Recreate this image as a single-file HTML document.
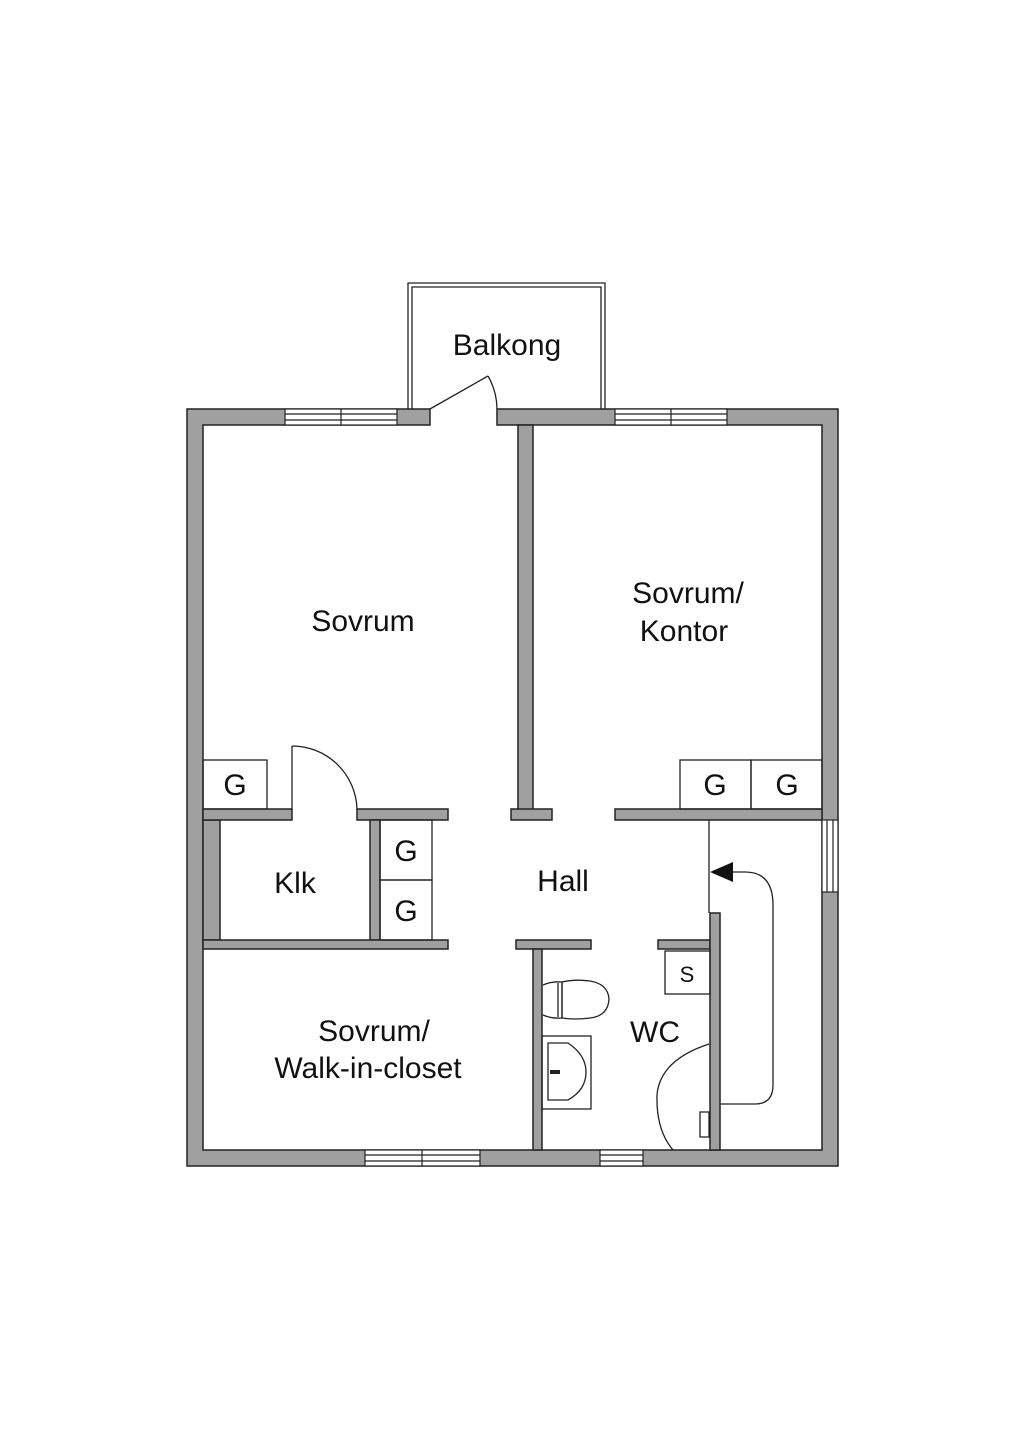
<!DOCTYPE html>
<html><head><meta charset="utf-8"><style>
html,body{margin:0;padding:0;background:#fff}
svg{display:block}
text{font-family:"Liberation Sans",sans-serif;font-size:30px;fill:#111}
</style></head><body>
<svg width="1024" height="1448" viewBox="0 0 1024 1448" xmlns="http://www.w3.org/2000/svg">
<g fill="#a0a0a0" stroke="#222" stroke-width="1.5">
<!-- outer wall -->
<path d="M187,409 H430 V425 H203 V1150 H822 V425 H497 V409 H838 V1166 H187 Z" fill-rule="evenodd"/>
<!-- thick left at klk -->
<rect x="203" y="820" width="17" height="120"/>
<!-- vertical between sovrum/kontor -->
<rect x="518" y="425" width="15" height="385"/>
<rect x="511" y="809" width="41" height="11"/>
<!-- horizontal y809 -->
<rect x="203" y="809" width="89" height="11"/>
<rect x="357" y="809" width="91" height="11"/>
<rect x="615" y="809" width="207" height="11"/>
<!-- klk / G wall -->
<rect x="370" y="820" width="10" height="120"/>
<rect x="203" y="940" width="245" height="9"/>
<!-- hall bottom -->
<rect x="516" y="940" width="75" height="9"/>
<rect x="533" y="949" width="9" height="201"/>
<rect x="658" y="940" width="52" height="9"/>
<rect x="710" y="913" width="10" height="237"/>
</g>
<!-- windows -->
<g fill="#fff" stroke="#222" stroke-width="1.2">
<rect x="285" y="409" width="112" height="16"/><line x1="285" y1="414" x2="397" y2="414"/><line x1="285" y1="420" x2="397" y2="420"/><line x1="341" y1="409" x2="341" y2="425"/>
<rect x="615" y="409" width="112" height="16"/><line x1="615" y1="414" x2="727" y2="414"/><line x1="615" y1="420" x2="727" y2="420"/><line x1="671" y1="409" x2="671" y2="425"/>
<rect x="365" y="1150" width="115" height="16"/><line x1="365" y1="1155" x2="480" y2="1155"/><line x1="365" y1="1161" x2="480" y2="1161"/><line x1="422" y1="1150" x2="422" y2="1166"/>
<rect x="600" y="1150" width="43" height="16"/><line x1="600" y1="1155" x2="643" y2="1155"/><line x1="600" y1="1161" x2="643" y2="1161"/>
<rect x="822" y="820" width="16" height="72"/><line x1="827" y1="820" x2="827" y2="892"/><line x1="833" y1="820" x2="833" y2="892"/>
</g>
<!-- balcony -->
<g fill="none" stroke="#222" stroke-width="1.3">
<path d="M408,409 V283 H605 V409"/>
<path d="M412,409 V287 H601 V409"/>
<line x1="430" y1="409" x2="488" y2="376"/>
<path d="M488,376 A67,67 0 0 1 497,409"/>
<!-- cabinets -->
<rect x="203" y="760" width="64" height="49"/>
<rect x="680" y="760" width="71" height="49"/>
<rect x="751" y="760" width="71" height="49"/>
<rect x="380" y="820" width="52" height="60"/>
<rect x="380" y="880" width="52" height="60"/>
<rect x="665" y="951" width="45" height="43"/>
<!-- klk door -->
<line x1="292" y1="809" x2="292" y2="746"/>
<path d="M292,746 A65,65 0 0 1 357,809"/>
<!-- hall line -->
<line x1="709" y1="820" x2="709" y2="913"/>
<path d="M728,872 H745 Q773,872 773,905 V1085 Q773,1104 755,1104 H720"/>
<!-- toilet -->
<path d="M543,985 Q552,981 562,982 V1018 Q552,1019 543,1015"/>
<path d="M562,982 Q575,979 590,981 Q608,984 609,999 Q608,1016 590,1018 Q575,1020 562,1018 Z"/>
<line x1="558" y1="983" x2="558" y2="1017"/>
<!-- sink -->
<rect x="542" y="1036" width="49" height="73"/>
<path d="M548,1043 L568,1043 Q586,1055 586,1072 Q586,1090 568,1100 L548,1100 Z"/>
<line x1="550" y1="1072" x2="560" y2="1072" stroke-width="4"/>
<!-- shower curtain -->
<path d="M709,1044 Q660,1060 657,1095 Q656,1130 673,1150"/>
<path d="M700,1112 h9 v25 h-9 z"/>
</g>
<polygon points="710,872 733,862 733,882" fill="#111"/>
<text x="507" y="355" text-anchor="middle">Balkong</text>
<text x="363" y="631" text-anchor="middle">Sovrum</text>
<text x="688" y="603" text-anchor="middle">Sovrum/</text>
<text x="684" y="641" text-anchor="middle">Kontor</text>
<text x="235" y="795" text-anchor="middle">G</text>
<text x="715" y="795" text-anchor="middle">G</text>
<text x="787" y="795" text-anchor="middle">G</text>
<text x="406" y="861" text-anchor="middle">G</text>
<text x="406" y="921" text-anchor="middle">G</text>
<text x="295" y="893" text-anchor="middle">Klk</text>
<text x="563" y="891" text-anchor="middle">Hall</text>
<text x="687" y="982" text-anchor="middle" style="font-size:22px">S</text>
<text x="374" y="1041" text-anchor="middle">Sovrum/</text>
<text x="368" y="1078" text-anchor="middle">Walk-in-closet</text>
<text x="655" y="1042" text-anchor="middle">WC</text>
</svg>
</body></html>
